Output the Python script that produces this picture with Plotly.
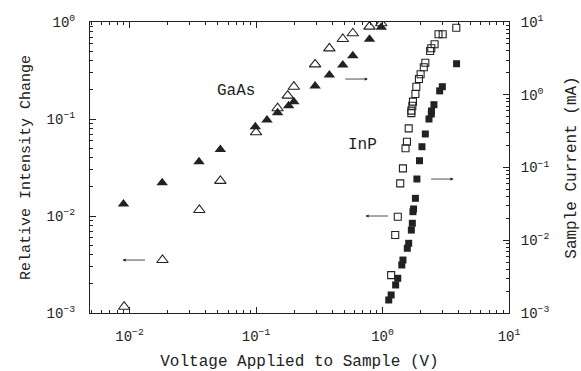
import plotly.graph_objects as go

# GaAs: open triangles -> relative intensity change (left axis)
gaas_int_v = [0.00906, 0.0182, 0.0356, 0.0522, 0.100, 0.148, 0.178, 0.199, 0.293, 0.380, 0.485, 0.582, 0.789, 0.977]
gaas_int = [0.00116, 0.00352, 0.01153, 0.0230, 0.0729, 0.129, 0.174, 0.215, 0.366, 0.535, 0.668, 0.765, 0.895, 0.97]

# GaAs: filled triangles -> sample current in mA (right axis)
gaas_cur_v = [0.00895, 0.0181, 0.0354, 0.0522, 0.0987, 0.122, 0.148, 0.181, 0.199, 0.293, 0.380, 0.485, 0.582, 0.789, 0.977]
gaas_cur = [0.0315, 0.0618, 0.120, 0.177, 0.364, 0.450, 0.567, 0.707, 0.80, 1.32, 1.87, 2.56, 3.44, 5.78, 8.46]

# InP: open squares -> relative intensity change (left axis)
inp_int_v = [3.83, 2.99, 2.77, 2.58, 2.43, 2.38, 2.18, 2.12, 2.00, 1.94, 1.85, 1.82, 1.74, 1.72,
             1.69, 1.69, 1.61, 1.56, 1.52, 1.45, 1.38, 1.32, 1.26, 1.17]
inp_int = [0.873, 0.747, 0.747, 0.589, 0.536, 0.502, 0.380, 0.341, 0.289, 0.258, 0.215, 0.181, 0.151, 0.137,
           0.122, 0.115, 0.080, 0.0583, 0.0499, 0.0310, 0.0217, 0.00984, 0.00637, 0.00246]

# InP: filled squares -> sample current in mA (right axis)
inp_cur_v = [3.85, 2.97, 2.83, 2.55, 2.44, 2.43, 2.33, 2.18, 2.05, 1.96, 1.87, 1.82, 1.76, 1.74,
             1.72, 1.69, 1.61, 1.57, 1.45, 1.42, 1.32, 1.27, 1.17, 1.12]
inp_cur = [2.67, 1.29, 1.13, 0.730, 0.598, 0.543, 0.464, 0.289, 0.193, 0.124, 0.0695, 0.0377, 0.0269, 0.0247,
           0.0171, 0.0138, 0.00908, 0.00776, 0.00535, 0.00457, 0.0030, 0.00243, 0.00177, 0.00151]

x_ticks = [0.01, 0.1, 1, 10]
x_tick_text = ["10<sup>−2</sup>", "10<sup>−1</sup>", "10<sup>0</sup>", "10<sup>1</sup>"]
yl_ticks = [0.001, 0.01, 0.1, 1]
yl_tick_text = ["10<sup>−3</sup>", "10<sup>−2</sup>", "10<sup>−1</sup>", "10<sup>0</sup>"]
yr_ticks = [0.001, 0.01, 0.1, 1, 10]
yr_tick_text = ["10<sup>−3</sup>", "10<sup>−2</sup>", "10<sup>−1</sup>", "10<sup>0</sup>", "10<sup>1</sup>"]


def minor_vals(decades):
    return [m * d for d in decades for m in range(2, 10)]


FONT = "Liberation Mono"
INK = "#222222"

fig = go.Figure()
fig.add_trace(go.Scatter(x=gaas_int_v, y=gaas_int, mode="markers", name="GaAs intensity",
                         marker=dict(symbol="triangle-up-open", size=10, color=INK, line=dict(width=1.1))))
fig.add_trace(go.Scatter(x=gaas_cur_v, y=gaas_cur, mode="markers", name="GaAs current", yaxis="y2",
                         marker=dict(symbol="triangle-up", size=10, color=INK)))
fig.add_trace(go.Scatter(x=inp_int_v, y=inp_int, mode="markers", name="InP intensity",
                         marker=dict(symbol="square-open", size=7, color=INK, line=dict(width=1.1))))
fig.add_trace(go.Scatter(x=inp_cur_v, y=inp_cur, mode="markers", name="InP current", yaxis="y2",
                         marker=dict(symbol="square", size=7, color=INK)))

common = dict(type="log", showgrid=False, zeroline=False, showline=True, linecolor=INK, linewidth=1,
              automargin=False,
              ticks="inside", ticklen=6, tickcolor=INK, tickfont=dict(family=FONT, size=14, color=INK))

fig.update_layout(
    width=581, height=371,
    margin=dict(l=90, r=72, t=22, b=58),
    paper_bgcolor="white", plot_bgcolor="white",
    showlegend=False,
    font=dict(family=FONT, color=INK),
    xaxis=dict(**common, range=[-2.313, 1.0], tickvals=x_ticks, ticktext=x_tick_text,
               mirror="ticks", ticklabelstandoff=10,
               minor=dict(tickvals=minor_vals([0.001, 0.01, 0.1, 1]), ticks="inside", ticklen=3,
                          tickcolor=INK, showgrid=False),
               title=dict(text="Voltage Applied to Sample (V)", font=dict(family=FONT, size=16, color=INK),
                          standoff=14)),
    yaxis=dict(**common, range=[-3, 0], tickvals=yl_ticks, ticktext=yl_tick_text,
               ticklabelstandoff=11,
               minor=dict(tickvals=minor_vals([0.001, 0.01, 0.1]), ticks="inside", ticklen=3,
                          tickcolor=INK, showgrid=False),
               title=dict(text="Relative Intensity Change", font=dict(family=FONT, size=15, color=INK),
                          standoff=12)),
    yaxis2=dict(**common, range=[-3, 1], tickvals=yr_ticks, ticktext=yr_tick_text, overlaying="y", side="right",
                ticklabelstandoff=8,
                minor=dict(tickvals=minor_vals([0.001, 0.01, 0.1, 1]), ticks="inside", ticklen=3,
                           tickcolor=INK, showgrid=False),
                title=dict(text="Sample Current (mA)", font=dict(family=FONT, size=16, color=INK),
                           standoff=18)),
)

# labels
fig.add_annotation(x=-1.156, y=-0.71, xref="x", yref="y", text="GaAs", showarrow=False,
                   font=dict(family=FONT, size=16, color=INK))
fig.add_annotation(x=-0.158, y=-1.27, xref="x", yref="y", text="InP", showarrow=False,
                   font=dict(family=FONT, size=16, color=INK))

# arrows indicating axis
arrow = dict(xref="x", yref="y", showarrow=True, arrowhead=2, arrowsize=0.8, arrowwidth=0.8,
             arrowcolor=INK, text="", ay=0)
fig.add_annotation(x=-2.056, y=-2.454, ax=24, **arrow)
fig.add_annotation(x=-0.116, y=-0.588, ax=-24, **arrow)
fig.add_annotation(x=-0.135, y=-2.0, ax=24, **arrow)
fig.add_annotation(x=0.562, y=-1.619, ax=-24, **arrow)

fig.write_html("out.html")
